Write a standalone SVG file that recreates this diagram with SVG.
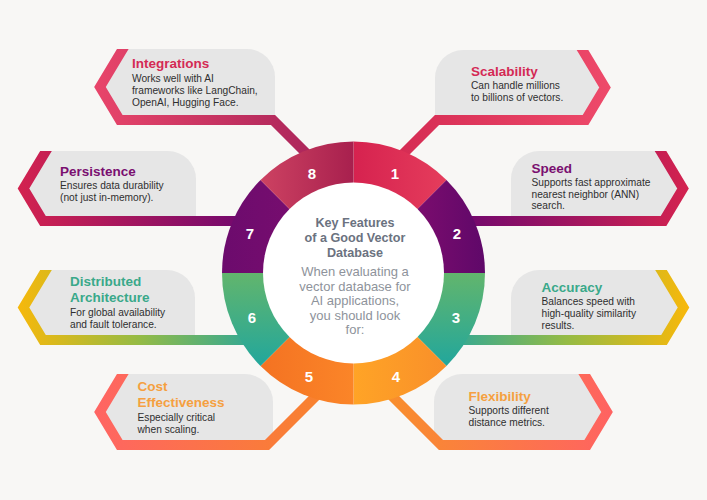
<svg xmlns="http://www.w3.org/2000/svg" width="707" height="500" viewBox="0 0 707 500">
<defs>
<style>
.bg{fill:#f8f7f5}
.box{fill:#e6e6e6}
.band{fill:none;stroke-width:10;stroke-linejoin:miter;stroke-miterlimit:10}
.t{font-family:"Liberation Sans",Arial,sans-serif;font-weight:700;font-size:13.5px}
.b{font-family:"Liberation Sans",Arial,sans-serif;font-size:10.2px;fill:#2f2f2f}
.num{font-family:"Liberation Sans",Arial,sans-serif;font-weight:700;font-size:15px;fill:#fff;text-anchor:middle}
.ct{font-family:"Liberation Sans",Arial,sans-serif;font-weight:700;font-size:12.6px;fill:#6b7280;text-anchor:middle}
.cb{font-family:"Liberation Sans",Arial,sans-serif;font-size:13px;fill:#8e939b;text-anchor:middle}
.red{fill:#d42a55}.pur{fill:#7a0f70}.grn{fill:#3aa98a}.org{fill:#f5a040}
</style>
<linearGradient id="g1" gradientUnits="userSpaceOnUse" x1="385" y1="0" x2="612" y2="0"><stop offset="0" stop-color="#d42a52"/><stop offset="1" stop-color="#ee4a6a"/></linearGradient>
<linearGradient id="g8" gradientUnits="userSpaceOnUse" x1="326" y1="0" x2="95" y2="0"><stop offset="0" stop-color="#a8245a"/><stop offset="1" stop-color="#e8456a"/></linearGradient>
<linearGradient id="g2" gradientUnits="userSpaceOnUse" x1="470" y1="0" x2="690" y2="0"><stop offset="0" stop-color="#74096d"/><stop offset="1" stop-color="#d4234f"/></linearGradient>
<linearGradient id="g7" gradientUnits="userSpaceOnUse" x1="240" y1="0" x2="15" y2="0"><stop offset="0" stop-color="#74096d"/><stop offset="1" stop-color="#d4234f"/></linearGradient>
<linearGradient id="g3" gradientUnits="userSpaceOnUse" x1="465" y1="0" x2="690" y2="0"><stop offset="0" stop-color="#3daa8c"/><stop offset="0.45" stop-color="#95bb45"/><stop offset="1" stop-color="#f9b80a"/></linearGradient>
<linearGradient id="g6" gradientUnits="userSpaceOnUse" x1="240" y1="0" x2="15" y2="0"><stop offset="0" stop-color="#3daa8c"/><stop offset="0.45" stop-color="#95bb45"/><stop offset="1" stop-color="#f9b80a"/></linearGradient>
<linearGradient id="g4" gradientUnits="userSpaceOnUse" x1="380" y1="0" x2="615" y2="0"><stop offset="0" stop-color="#f8902a"/><stop offset="1" stop-color="#ff6262"/></linearGradient>
<linearGradient id="g5" gradientUnits="userSpaceOnUse" x1="330" y1="0" x2="90" y2="0"><stop offset="0" stop-color="#f8832c"/><stop offset="1" stop-color="#ff6464"/></linearGradient>
<linearGradient id="s1" gradientUnits="userSpaceOnUse" x1="353" y1="0" x2="447" y2="0"><stop offset="0" stop-color="#d6224f"/><stop offset="1" stop-color="#e53d5c"/></linearGradient>
<linearGradient id="s8" gradientUnits="userSpaceOnUse" x1="353" y1="0" x2="260" y2="0"><stop offset="0" stop-color="#a8204e"/><stop offset="1" stop-color="#cd4262"/></linearGradient>
<linearGradient id="s2" gradientUnits="userSpaceOnUse" x1="400" y1="0" x2="485" y2="0"><stop offset="0" stop-color="#820d6f"/><stop offset="1" stop-color="#5f0869"/></linearGradient>
<linearGradient id="s7" gradientUnits="userSpaceOnUse" x1="222" y1="0" x2="300" y2="0"><stop offset="0" stop-color="#6c0b6d"/><stop offset="1" stop-color="#780d6f"/></linearGradient>
<linearGradient id="s36" gradientUnits="userSpaceOnUse" x1="0" y1="273" x2="0" y2="370"><stop offset="0" stop-color="#62b56d"/><stop offset="1" stop-color="#1fa69e"/></linearGradient>
<linearGradient id="s4" gradientUnits="userSpaceOnUse" x1="353" y1="0" x2="447" y2="0"><stop offset="0" stop-color="#ffa426"/><stop offset="1" stop-color="#f98f2a"/></linearGradient>
<linearGradient id="s5" gradientUnits="userSpaceOnUse" x1="260" y1="0" x2="353" y2="0"><stop offset="0" stop-color="#f47222"/><stop offset="1" stop-color="#fb8528"/></linearGradient>
<clipPath id="k49"><rect x="0" y="49" width="707" height="451"/></clipPath>
<clipPath id="k50"><rect x="0" y="50" width="707" height="450"/></clipPath>
<clipPath id="k151"><rect x="0" y="151" width="707" height="349"/></clipPath>
<clipPath id="k270"><rect x="0" y="270" width="707" height="230"/></clipPath>
<clipPath id="k374"><rect x="0" y="374" width="707" height="126"/></clipPath>
</defs>
<rect class="bg" x="0" y="0" width="707" height="500"/>

<g id="node-integrations">
<path class="box" d="M275,120 V77 A28,28 0 0 0 247,49 H122.8 L100,87 L119.8,120 Z"/>
<text class="t red" x="132" y="68">Integrations</text>
<text class="b" x="132" y="82">Works well with AI</text>
<text class="b" x="132" y="94">frameworks like LangChain,</text>
<text class="b" x="132" y="106">OpenAI, Hugging Face.</text>
</g>
<g id="node-scalability">
<path class="box" d="M435,120 V78 A28,28 0 0 1 463,50 H582.5 L605,87.5 L585.5,120 Z"/>
<text class="t red" x="471" y="76">Scalability</text>
<text class="b" x="471" y="89">Can handle millions</text>
<text class="b" x="471" y="101">to billions of vectors.</text>
</g>
<g id="node-persistence">
<path class="box" d="M196,221 V179 A28,28 0 0 0 168,151 H46 L23.5,188.5 L43,221 Z"/>
<text class="t pur" x="60" y="176">Persistence</text>
<text class="b" x="60" y="189">Ensures data durability</text>
<text class="b" x="60" y="201">(not just in-memory).</text>
</g>
<g id="node-speed">
<path class="box" d="M511,221 V179 A28,28 0 0 1 539,151 H660.5 L683,188.5 L663.5,221 Z"/>
<text class="t pur" x="531.5" y="172.5">Speed</text>
<text class="b" x="531.5" y="186">Supports fast approximate</text>
<text class="b" x="531.5" y="197.5">nearest neighbor (ANN)</text>
<text class="b" x="531.5" y="209">search.</text>
</g>
<g id="node-distributed">
<path class="box" d="M195,340 V298 A28,28 0 0 0 167,270 H46 L23.5,307.5 L43,340 Z"/>
<text class="t grn" x="70" y="286">Distributed</text>
<text class="t grn" x="70" y="302">Architecture</text>
<text class="b" x="70" y="316">For global availability</text>
<text class="b" x="70" y="328">and fault tolerance.</text>
</g>
<g id="node-accuracy">
<path class="box" d="M511,340 V298 A28,28 0 0 1 539,270 H661 L683.5,307.5 L664,340 Z"/>
<text class="t grn" x="541.5" y="292">Accuracy</text>
<text class="b" x="541.5" y="304.5">Balances speed with</text>
<text class="b" x="541.5" y="316.5">high-quality similarity</text>
<text class="b" x="541.5" y="328.5">results.</text>
</g>
<g id="node-cost">
<path class="box" d="M273,445 V402 A28,28 0 0 0 245,374 H122.8 L100,412 L119.8,445 Z"/>
<text class="t org" x="137.5" y="391">Cost</text>
<text class="t org" x="137.5" y="407">Effectiveness</text>
<text class="b" x="137.5" y="421">Especially critical</text>
<text class="b" x="137.5" y="433">when scaling.</text>
</g>
<g id="node-flexibility">
<path class="box" d="M434,445 V402 A28,28 0 0 1 462,374 H584.2 L607,412 L587.2,445 Z"/>
<text class="t org" x="468.5" y="401">Flexibility</text>
<text class="b" x="468.5" y="414">Supports different</text>
<text class="b" x="468.5" y="426">distance metrics.</text>
</g>

<g id="connectors">
<polyline class="band" stroke="url(#g1)" clip-path="url(#k50)" points="385,172 437,120 585.5,120 605,87.5 582.5,50 576.5,40"/>
<polyline class="band" stroke="url(#g2)" clip-path="url(#k151)" points="440,221 663.5,221 683,188.5 660.5,151 654.5,141"/>
<polyline class="band" stroke="url(#g3)" clip-path="url(#k270)" points="440,340 664,340 683.5,307.5 661,270 655,260"/>
<polyline class="band" stroke="url(#g4)" clip-path="url(#k374)" points="370,374 441,445 587.2,445 607,412 584.2,374 578.2,364"/>
<polyline class="band" stroke="url(#g5)" clip-path="url(#k374)" points="337,375 267,445 119.8,445 100,412 122.8,374 128.8,364"/>
<polyline class="band" stroke="url(#g6)" clip-path="url(#k270)" points="267,340 43,340 23.5,307.5 46,270 52,260"/>
<polyline class="band" stroke="url(#g7)" clip-path="url(#k151)" points="267,221 43,221 23.5,188.5 46,151 52,141"/>
<polyline class="band" stroke="url(#g8)" clip-path="url(#k49)" points="326,173 273,120 119.8,120 100,87 122.8,49 128.8,39"/>
</g>

<g id="hub">
<path fill="url(#s1)" d="M353.5,273 L353.5,141.5 A131.5,131.5 0 0 1 446.49,180.02 Z"/>
<path fill="url(#s2)" d="M353.5,273 L446.49,180.02 A131.5,131.5 0 0 1 485,273 Z"/>
<path fill="url(#s36)" d="M353.5,273 L485,273 A131.5,131.5 0 0 1 446.49,365.99 Z"/>
<path fill="url(#s4)" d="M353.5,273 L446.49,365.99 A131.5,131.5 0 0 1 353.5,404.5 Z"/>
<path fill="url(#s5)" d="M353.5,273 L353.5,404.5 A131.5,131.5 0 0 1 260.51,365.99 Z"/>
<path fill="url(#s36)" d="M353.5,273 L260.51,365.99 A131.5,131.5 0 0 1 222,273 Z"/>
<path fill="url(#s7)" d="M353.5,273 L222,273 A131.5,131.5 0 0 1 260.51,180.02 Z"/>
<path fill="url(#s8)" d="M353.5,273 L260.51,180.02 A131.5,131.5 0 0 1 353.5,141.5 Z"/>
<circle cx="353.5" cy="273" r="90.5" fill="#ffffff"/>
<text class="num" x="395" y="178.5">1</text>
<text class="num" x="457" y="238.5">2</text>
<text class="num" x="456" y="322.5">3</text>
<text class="num" x="396" y="381.5">4</text>
<text class="num" x="309" y="381.5">5</text>
<text class="num" x="252" y="322.5">6</text>
<text class="num" x="250" y="238.5">7</text>
<text class="num" x="312" y="178.5">8</text>
<text class="ct" x="355" y="227">Key Features</text>
<text class="ct" x="355" y="242">of a Good Vector</text>
<text class="ct" x="355" y="257">Database</text>
<text class="cb" x="355" y="276">When evaluating a</text>
<text class="cb" x="355" y="290.5">vector database for</text>
<text class="cb" x="355" y="305">AI applications,</text>
<text class="cb" x="355" y="319.5">you should look</text>
<text class="cb" x="355" y="334">for:</text>
</g>
</svg>
